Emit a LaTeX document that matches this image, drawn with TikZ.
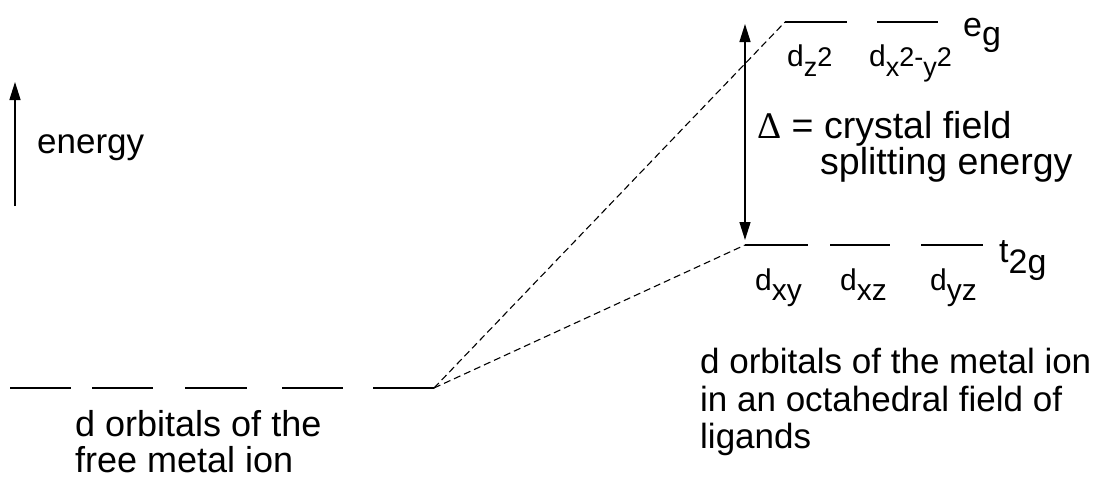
\documentclass[tikz,border=0pt]{standalone}
\usepackage{fontspec}
\setmainfont{Liberation Sans}
\newfontfamily\seriffont{Liberation Serif}
\usetikzlibrary{arrows.meta}
\newcommand\lo[2][27]{\raisebox{-10pt}{\fontsize{#1}{#1}\selectfont #2}}
\newcommand\sm[1]{{\fontsize{27}{27}\selectfont #1}}
\begin{document}
\begin{tikzpicture}[x=1pt,y=-1pt,
  level/.style={line width=1.6pt},
  conn/.style={line width=1.1pt, dash pattern=on 7pt off 4pt},
  arr/.style={line width=1.4pt, -{Triangle[length=18pt,width=11pt]}},
  darr/.style={line width=1.4pt, {Triangle[length=18pt,width=11pt]}-{Triangle[length=18pt,width=11pt]}},
  big/.style={anchor=base west, inner sep=0pt, font=\fontsize{35}{37}\selectfont},
  mid/.style={anchor=base west, inner sep=0pt, font=\fontsize{34}{34}\selectfont},
  orb/.style={anchor=base west, inner sep=0pt, font=\fontsize{30}{30}\selectfont}]
\useasboundingbox (0,0) rectangle (1110,483);
% free ion levels
\coordinate (f1l) at (10,388);  \coordinate (f1r) at (71,388);
\coordinate (f2l) at (92,388);  \coordinate (f2r) at (153,388);
\coordinate (f3l) at (185,388); \coordinate (f3r) at (247,388);
\coordinate (f4l) at (282,388); \coordinate (f4r) at (343,388);
\coordinate (f5l) at (373,388); \coordinate (f5r) at (434,388);
\foreach \i in {1,...,5} \draw[level] (f\i l) -- (f\i r);
% eg levels
\coordinate (e1l) at (785,22); \coordinate (e1r) at (847,22);
\coordinate (e2l) at (877,22); \coordinate (e2r) at (938,22);
\draw[level] (e1l) -- (e1r);
\draw[level] (e2l) -- (e2r);
% t2g levels
\coordinate (t1l) at (745,245); \coordinate (t1r) at (808,245);
\coordinate (t2l) at (830,245); \coordinate (t2r) at (890,245);
\coordinate (t3l) at (921,245); \coordinate (t3r) at (983,245);
\draw[level] (t1l) -- (t1r);
\draw[level] (t2l) -- (t2r);
\draw[level] (t3l) -- (t3r);
% dashed connectors
\draw[conn] (f5r) -- (e1l);
\draw[conn] (f5r) -- (t1l);
% energy arrow
\coordinate (en0) at (15,206); \coordinate (en1) at (15,82);
\draw[arr] (en0) -- (en1);
\node[big] (energy) at (37,153) {energy};
% splitting arrow
\coordinate (dtop) at (745,24); \coordinate (dbot) at (745,240);
\draw[darr] (dbot) -- (dtop);
\node[big, font=\fontsize{37.5}{37.5}\selectfont] (delta) at (757,138) {{\seriffont Δ} = crystal field};
\node[big, font=\fontsize{37.5}{37.5}\selectfont] (split) at (820,174) {splitting energy};
% orbital labels
\node[orb] (dz2) at (787,66) {d\lo{z}\sm{2}};
\node[orb] (dx2y2) at (869,66) {d\lo{x}\sm{2-}\lo{y}\sm{2}};
\node[mid] (eg) at (963,36) {e\raisebox{-9pt}{g}};
\node[orb] (dxy) at (755,290) {d\lo[30]{xy}};
\node[orb] (dxz) at (840,290) {d\lo[30]{xz}};
\node[orb] (dyz) at (930,290) {d\lo[30]{yz}};
\node[mid] (t2g) at (999,262) {t\raisebox{-11pt}{2g}};
% captions
\node[big, font=\fontsize{36}{36}\selectfont] (free1) at (75,436) {d orbitals of the};
\node[big, font=\fontsize{36}{36}\selectfont] (free2) at (75,472) {free metal ion};
\node[big] (oct1) at (700,373) {d orbitals of the metal ion};
\node[big] (oct2) at (700,411) {in an octahedral field of};
\node[big] (oct3) at (700,448) {ligands};
\end{tikzpicture}
\end{document}
